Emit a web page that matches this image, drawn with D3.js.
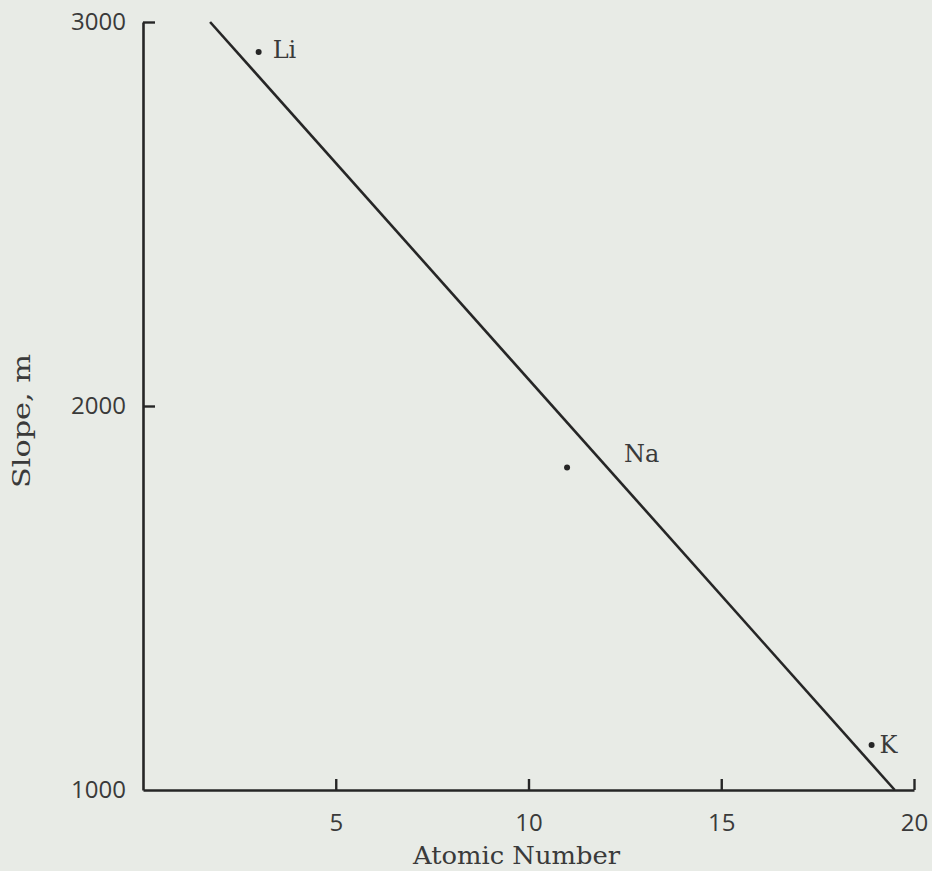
<!DOCTYPE html>
<html>
<head>
<meta charset="utf-8">
<script src="https://cdn.jsdelivr.net/npm/d3@7"></script>
<style>
  html, body { margin: 0; padding: 0; background: #e8ebe6; }
  svg { display: block; }
</style>
</head>
<body>
<svg id="chart" width="932" height="871"></svg>
<script>
// ---- data ----
const elements = ["Li", "Na", "K"];
const atomicNumbers = [3, 11, 18.9];
const slopes = [2922, 1840, 1117];
const fitLineX = [1.74, 19.5];
const fitLineY = [3000, 1000];
const xTickValues = [5, 10, 15, 20];
const yTickValues = [1000, 2000, 3000];
const xTitle = "Atomic Number";
const yTitle = "Slope, m";

// ---- layout ----
const W = 932, H = 871;
const svg = d3.select("#chart");
svg.append("rect").attr("width", W).attr("height", H).attr("fill", "#e8ebe6");

const x = d3.scaleLinear().domain([0, 20]).range([143, 914]);
const y = d3.scaleLinear().domain([1000, 3000]).range([790, 22]);

const ink = "#262626";
const tickFont = "'Open Sans', sans-serif";
const typeFont = "'DejaVu Serif', serif";

// x axis
const xAxis = svg.append("g")
  .attr("transform", `translate(0,${y(1000)})`)
  .call(d3.axisBottom(x).tickValues(xTickValues).tickFormat(d3.format("d"))
    .tickSizeInner(-11).tickSizeOuter(0).tickPadding(24));
// y axis
const yAxis = svg.append("g")
  .attr("transform", `translate(${x(0)},0)`)
  .call(d3.axisLeft(y).tickValues(yTickValues).tickFormat(d3.format("d"))
    .tickSizeInner(-12).tickSizeOuter(0).tickPadding(17));

[xAxis, yAxis].forEach(g => {
  g.select(".domain").attr("stroke", ink).attr("stroke-width", 2.6);
  g.selectAll(".tick line").attr("stroke", ink).attr("stroke-width", 2.4);
  g.selectAll(".tick text")
    .attr("fill", "#3a3a3a")
    .style("font-family", tickFont)
    .style("font-size", "24px");
});
// remove 1000 tick mark (corner) on y axis
yAxis.selectAll(".tick").filter(d => d === 1000).select("line").remove();

// fitted line
const lineData = fitLineX.map((v, i) => ({ x: v, y: fitLineY[i] }));
svg.append("path")
  .datum(lineData)
  .attr("fill", "none")
  .attr("stroke", ink)
  .attr("stroke-width", 2.6)
  .attr("d", d3.line().x(d => x(d.x)).y(d => y(d.y)));

// points
const pts = elements.map((e, i) => ({ name: e, x: atomicNumbers[i], y: slopes[i] }));
const labelOffsets = { Li: [14, 6], Na: [57, -5], K: [8, 8] };
svg.selectAll("circle.pt")
  .data(pts).enter().append("circle")
  .attr("class", "pt")
  .attr("cx", d => x(d.x)).attr("cy", d => y(d.y))
  .attr("r", 3).attr("fill", ink);
svg.selectAll("text.lbl")
  .data(pts).enter().append("text")
  .attr("class", "lbl")
  .attr("x", d => x(d.x) + labelOffsets[d.name][0])
  .attr("y", d => y(d.y) + labelOffsets[d.name][1])
  .attr("fill", "#3a3a3a")
  .style("font-family", typeFont)
  .style("font-size", "24px")
  .text(d => d.name);

// axis titles
svg.append("text")
  .attr("x", 413).attr("y", 864)
  .attr("textLength", 207)
  .attr("lengthAdjust", "spacingAndGlyphs")
  .attr("fill", "#3a3a3a")
  .style("font-family", typeFont)
  .style("font-size", "24px")
  .text(xTitle);

svg.append("text")
  .attr("transform", "translate(30,488) rotate(-90)")
  .attr("textLength", 134)
  .attr("lengthAdjust", "spacingAndGlyphs")
  .attr("fill", "#3a3a3a")
  .style("font-family", typeFont)
  .style("font-size", "24px")
  .text(yTitle);
</script>
</body>
</html>
